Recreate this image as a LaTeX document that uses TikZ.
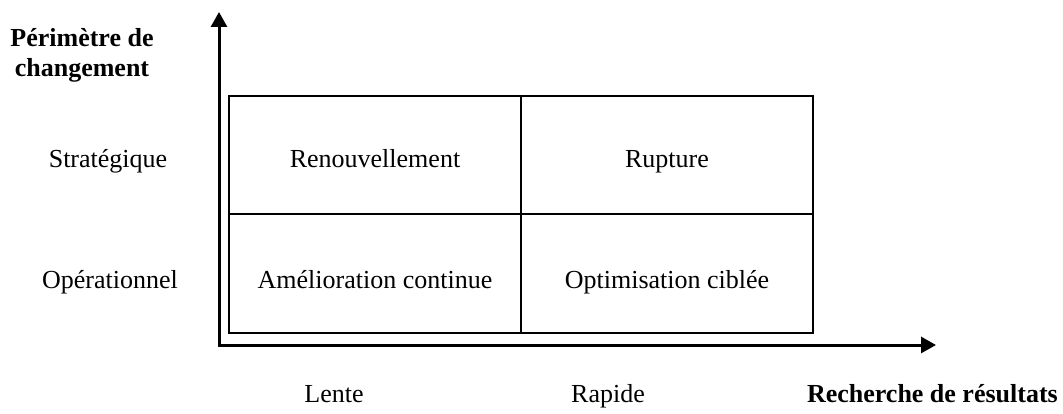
\documentclass[tikz,border=0pt]{standalone}
\usepackage{fontspec}
\setmainfont{Liberation Serif}
\usetikzlibrary{arrows.meta}
\begin{document}
\begin{tikzpicture}[x=1pt,y=-1pt,
  axis/.style={line width=3pt,-{Triangle[width=16pt,length=15pt]}},
  cellline/.style={line width=2pt},
  txt/.style={font=\fontsize{26}{30}\selectfont,inner sep=0pt},
  head/.style={font=\fontsize{26}{30}\selectfont\bfseries,inner sep=0pt}]
\useasboundingbox (0,0) rectangle (1063,414);

% axes
\coordinate (origin) at (219,345);
\coordinate (ytip) at (219,12);
\coordinate (xtip) at (936,345);
\draw[axis] (219,346.5) -- (ytip);
\draw[axis] (217.5,345) -- (xtip);

% matrix of the four cells
\coordinate (tl) at (229,96);
\coordinate (br) at (813,333);
\coordinate (mt) at (521,96);
\coordinate (mb) at (521,333);
\coordinate (ml) at (229,214);
\coordinate (mr) at (813,214);
\draw[cellline] (tl) rectangle (br);
\draw[cellline] (mt) -- (mb);
\draw[cellline] (ml) -- (mr);

% cell labels
\node[txt,anchor=base] (c1) at (375,168) {Renouvellement};
\node[txt,anchor=base] (c2) at (667,168) {Rupture};
\node[txt,anchor=base] (c3) at (375,288) {Amélioration continue};
\node[txt,anchor=base] (c4) at (667,288) {Optimisation ciblée};

% vertical axis labels
\node[head,anchor=base,align=center] (yl) at (82,77) {Périmètre de\\changement};
\node[txt,anchor=base] (s) at (108,168) {Stratégique};
\node[txt,anchor=base] (o) at (110,288) {Opérationnel};

% horizontal axis labels
\node[txt,anchor=base] (l) at (334,402) {Lente};
\node[txt,anchor=base] (r) at (608,402) {Rapide};
\node[head,anchor=base east] (xl) at (1058,402) {Recherche de résultats};
\end{tikzpicture}
\end{document}
